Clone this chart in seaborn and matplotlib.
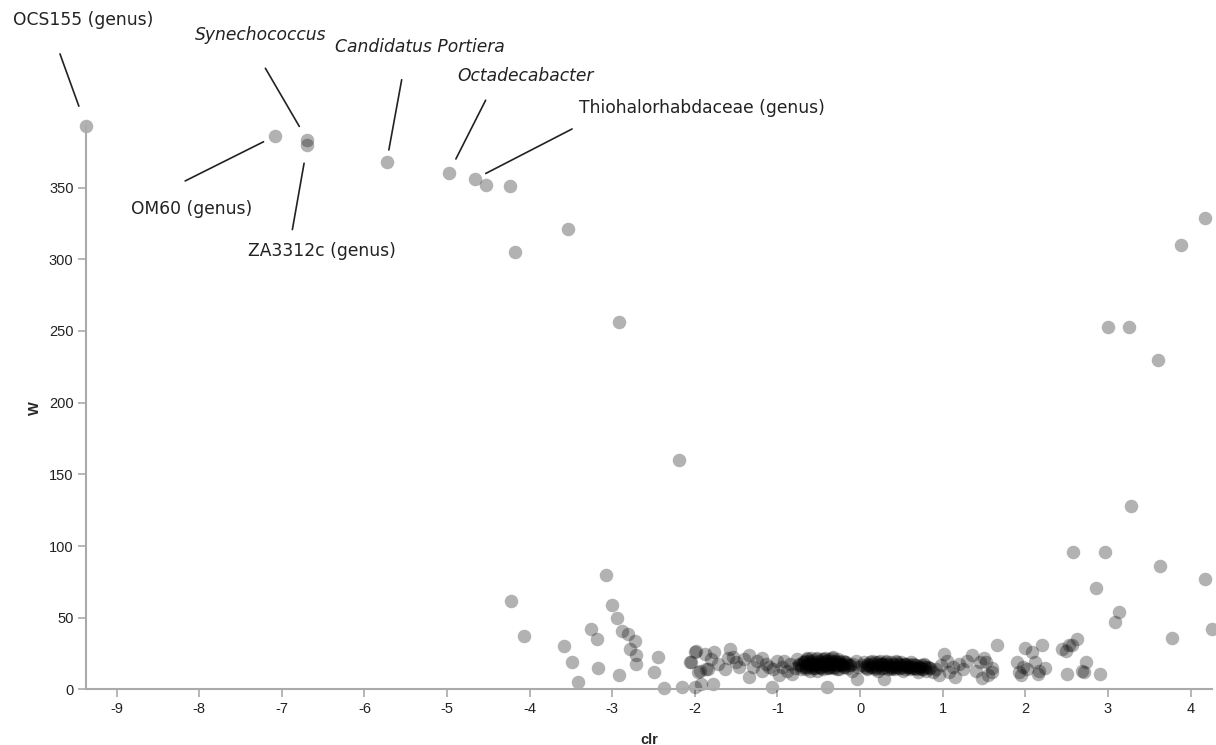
import matplotlib
matplotlib.use("Agg")
import matplotlib.pyplot as plt
import seaborn as sns
import pandas as pd

sns.set_theme(style="white")
plt.rcParams["font.family"] = ["Liberation Sans", "DejaVu Sans"]
plt.rcParams["axes.unicode_minus"] = False

# Labelled taxa
label_names = ["OCS155 (genus)", "OM60 (genus)", "Synechococcus", "ZA3312c (genus)",
               "Candidatus Portiera", "Octadecabacter", "Thiohalorhabdaceae (genus)"]
label_italic = [False, False, True, False, True, True, False]
label_clr = [-9.37, -7.08, -6.69, -6.69, -5.73, -4.98, -4.66]
label_w = [393, 386, 383, 380, 368, 360, 356]

# Remaining high-W taxa
high_clr = [-4.53, -4.24, -4.18, -3.53, -2.92, -2.19,
            4.17, 3.89, 3.00, 3.26, 3.61, 3.28, 2.96, 2.58, 3.63, 4.18, 2.85,
            4.26, 3.14, 3.09, 3.77]
high_w = [352, 351, 305, 321, 256, 160,
          329, 310, 253, 253, 230, 128, 96, 96, 86, 77, 71,
          42, 54, 47, 36]

# Low-W taxa on the negative side
left_clr = [-4.23, -4.07, -3.07, -3.00, -2.94, -3.26, -3.18, -3.58, -3.49, -3.41,
            -3.17, -2.92, -2.88, -2.81, -2.73, -2.78, -2.71, -2.71, -2.45, -2.50,
            -2.37, -2.16, -2.00, -1.92, -1.78, -2.06, -1.98, -1.94, -1.84, -1.07, -0.40]
left_w = [62, 37, 80, 59, 50, 42, 35, 30, 19, 5,
          15, 10, 41, 39, 34, 28, 24, 18, 23, 12,
          1, 2, 2, 4, 4, 19, 27, 13, 14, 2, 2]

# Band of taxa near zero
band_clr = [-2.00, -2.05, -1.96, -1.88, -1.86, -1.80, -1.77, -1.72, -1.64, -1.60,
            -1.58, -1.54, -1.50, -1.46, -1.40, -1.35, -1.34, -1.29, -1.25, -1.19,
            -1.19, -1.14, -1.10, -1.05, -1.00, -0.98,
            -0.95, -0.92, -0.88, -0.85, -0.82, -0.79, -0.76, -0.74, -0.71, -0.68,
            -0.66, -0.64, -0.62, -0.60, -0.58, -0.56, -0.55, -0.53, -0.51, -0.49,
            -0.47, -0.45, -0.43, -0.41, -0.39, -0.37, -0.35, -0.33, -0.31, -0.29,
            -0.27, -0.25, -0.23, -0.21, -0.19, -0.17, -0.15, -0.13, -0.10, -0.08,
            -0.05, -0.03, -0.04, 0.29,
            0.02, 0.05, 0.08, 0.10, 0.13, 0.15, 0.18, 0.20, 0.22, 0.25,
            0.27, 0.30, 0.32, 0.35, 0.37, 0.40, 0.42, 0.45, 0.47, 0.50,
            0.52, 0.55, 0.57, 0.60, 0.62, 0.65, 0.67, 0.70, 0.72, 0.75,
            0.77, 0.80, 0.82, 0.85, 0.88,
            0.92, 0.95, 0.98, 1.02, 1.05, 1.08, 1.12, 1.15, 1.20, 1.25,
            1.30, 1.35, 1.40, 1.45, 1.50, 1.55, 1.60, 1.52, 1.48]
band_w = [26, 19, 12, 25, 14, 21, 26, 18, 14, 22,
          28, 23, 19, 16, 21, 9, 24, 16, 20, 22,
          13, 18, 16, 14, 20, 10,
          16, 20, 13, 18, 11, 15, 21, 17, 14, 19,
          16, 22, 18, 13, 20, 17, 15, 21, 18, 16,
          19, 14, 22, 17, 20, 15, 18, 23, 16, 19,
          21, 14, 18, 20, 16, 19, 15, 17, 13, 18,
          20, 16, 7, 7,
          17, 19, 15, 18, 16, 20, 14, 17, 19, 15,
          18, 16, 20, 17, 14, 18, 16, 19, 15, 17,
          13, 18, 16, 14, 19, 15, 17, 12, 16, 14,
          18, 13, 16, 15, 12,
          14, 10, 17, 25, 20, 12, 16, 9, 18, 14,
          20, 24, 13, 19, 22, 10, 15, 19, 8]

# Densest core of the band
core_clr = [-0.74, -0.70, -0.67, -0.63, -0.61, -0.57, -0.54, -0.50, -0.48, -0.44,
            -0.42, -0.38, -0.36, -0.32, -0.30, -0.26, -0.24, -0.20, -0.16, -0.12,
            -0.66, -0.59, -0.52, -0.46, -0.40, -0.34, -0.28, -0.22, -0.58, -0.36,
            0.06, 0.11, 0.16, 0.21, 0.26, 0.31, 0.36, 0.41, 0.46, 0.51,
            0.56, 0.61, 0.66, 0.71, 0.76, 0.12, 0.24, 0.34, 0.44, 0.54,
            0.64, 0.74, 0.19, 0.39, 0.59, 0.79,
            -0.72, -0.69, -0.65, -0.62, -0.60, -0.56, -0.53, -0.49, -0.45, -0.41,
            -0.37, -0.33, -0.29, -0.25, -0.21, -0.18, -0.64, -0.55, -0.47, -0.39,
            -0.31, -0.27, -0.44, -0.35, -0.52, -0.60,
            0.08, 0.14, 0.18, 0.23, 0.28, 0.33, 0.38, 0.43, 0.48, 0.53,
            0.58, 0.63, 0.68, 0.73, 0.78, 0.83, 0.09, 0.27, 0.37, 0.48,
            0.57, 0.69, 0.31, 0.50, 0.22, 0.42, 0.62]
core_w = [18, 16, 20, 17, 19, 15, 18, 20, 16, 19,
          17, 21, 16, 18, 20, 17, 19, 16, 18, 17,
          14, 22, 13, 21, 15, 22, 14, 17, 18, 18,
          16, 17, 18, 16, 17, 18, 16, 17, 18, 16,
          17, 16, 15, 16, 14, 19, 20, 14, 20, 14,
          18, 17, 15, 15, 16, 16,
          17, 19, 16, 20, 18, 17, 19, 18, 17, 20,
          18, 19, 17, 18, 17, 19, 21, 16, 15, 16,
          15, 20, 21, 20, 22, 16,
          17, 16, 19, 18, 15, 17, 19, 16, 17, 18,
          16, 15, 17, 15, 17, 15, 14, 18, 16, 15,
          18, 14, 19, 19, 13, 14, 17]

# Taxa on the positive side
right_clr = [1.66, 1.60, 1.90, 1.93, 1.95, 2.00, 2.02, 2.08, 2.12, 2.17,
             2.20, 2.24, 2.15, 1.97, 2.45, 2.49, 2.53, 2.56, 2.63, 2.51,
             2.69, 2.73, 2.71, 2.90]
right_w = [31, 12, 19, 12, 10, 29, 14, 26, 19, 13,
           31, 15, 11, 16, 28, 27, 31, 31, 35, 11,
           13, 19, 12, 11]

df = pd.DataFrame({
    "clr": label_clr + high_clr + left_clr + band_clr + core_clr + right_clr,
    "W": label_w + high_w + left_w + band_w + core_w + right_w,
})

fig = plt.figure(figsize=(12.16, 7.45), dpi=100)
ax = fig.add_axes([0.0707, 0.0745, 0.9260, 0.7565])

sns.scatterplot(data=df, x="clr", y="W", ax=ax, color="black", alpha=0.3,
                s=95, linewidth=0, clip_on=False)

ax.set_xlim(df["clr"].min(), df["clr"].max())
ax.set_ylim(0, df["W"].max())
ax.set_xticks(range(-9, 5))
ax.set_yticks(range(0, 351, 50))

for side in ["top", "right"]:
    ax.spines[side].set_visible(False)
for side in ["left", "bottom"]:
    ax.spines[side].set_color("#aaaaaa")
    ax.spines[side].set_linewidth(1.5)
ax.tick_params(axis="both", which="both", length=6, width=1.2, color="#aaaaaa",
               labelsize=10.5, labelcolor="#222222", pad=3, left=True, bottom=True)

ax.set_xlabel("clr", fontsize=10.5, fontweight="bold", labelpad=12)
ax.set_ylabel("W", fontsize=10.5, fontweight="bold")
ax.yaxis.set_label_coords(-0.039, 0.5)

# label placement: text centre offset, line end near text, gap from point (pixels)
text_off = [(-3, 106), (-84, -73), (-47, 105), (15, -106), (33, 115), (77, 97), (227, 71)]
line_off = [(-26, 72), (-90, -45), (-42, 72), (-15, -85), (15, 82), (37, 73), (97, 50)]
line_gap = [21, 13, 16, 19, 12, 16, 12]

pt = 72 / fig.dpi
for name, it, x, y, toff, loff, gap in zip(label_names, label_italic, label_clr,
                                           label_w, text_off, line_off, line_gap):
    ax.annotate(name, xy=(x, y), xytext=toff, textcoords="offset pixels",
                ha="center", va="center", fontsize=12.3, color="#222222",
                family="DejaVu Sans", style="italic" if it else "normal",
                annotation_clip=False)
    ax.annotate("", xy=(x, y), xytext=loff, textcoords="offset pixels",
                arrowprops=dict(arrowstyle="-", color="#222222", lw=1.2,
                                shrinkA=0, shrinkB=gap * pt),
                annotation_clip=False)

fig.savefig("out.png", dpi=100)
